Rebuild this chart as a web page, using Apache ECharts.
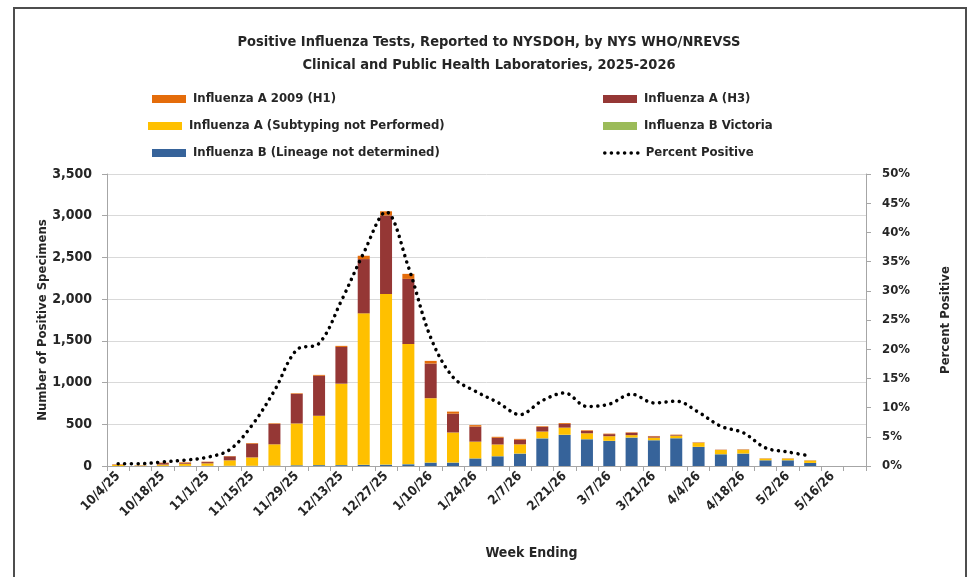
<!DOCTYPE html>
<html>
<head>
<meta charset="utf-8">
<script src="https://cdn.jsdelivr.net/npm/echarts@6/dist/echarts.min.js"></script>
<style>
html,body{margin:0;padding:0;background:#fff;}
#chart{width:978px;height:577px;}
</style>
</head>
<body>
<div id="chart"></div>
<script>
const weeks = ['10/4/25','10/11/25','10/18/25','10/25/25','11/1/25','11/8/25','11/15/25','11/22/25','11/29/25','12/6/25','12/13/25','12/20/25','12/27/25','1/3/26','1/10/26','1/17/26','1/24/26','1/31/26','2/7/26','2/14/26','2/21/26','2/28/26','3/7/26','3/14/26','3/21/26','3/28/26','4/4/26','4/11/26','4/18/26','4/25/26','5/2/26','5/9/26','5/16/26','5/23/26'];

const fluBLineageND = [0,0,2,2,2,3,3,5,8,10,10,12,15,20,40,40,90,116,148,330,372,320,300,340,308,332,228,140,148,68,68,36];
const fluBVictoria  = [0,0,0,0,0,0,0,0,2,2,2,3,3,3,3,2,2,2,2,3,3,2,2,2,2,2,2,2,2,1,1,1];
const fluANotSubtyped = [12,5,15,25,30,65,100,255,500,590,975,1815,2045,1440,770,360,200,140,110,80,85,70,55,28,30,30,48,50,45,20,20,28];
const fluAH3 = [3,2,18,10,15,48,165,245,355,480,440,650,940,780,415,225,180,80,55,55,45,28,25,28,15,8,3,2,3,2,2,2];
const fluAH1 = [5,1,5,7,5,4,8,7,7,10,13,40,50,60,32,25,18,12,10,8,10,8,6,6,5,4,3,2,2,1,1,1];
const percentPositive = [0.4,0.4,0.7,1.0,1.5,2.8,7.0,12.9,19.9,21.0,28.3,36.5,43.5,34.1,22.0,15.2,12.8,10.9,8.8,11.2,12.5,10.2,10.6,12.3,10.8,11.1,9.2,6.8,5.7,3.1,2.4,1.7];

const yLeftTicks = {min:0, max:3500, interval:500};
const yRightTicks = {min:0, max:50, interval:5};

const FONT = '"Liberation Sans Narrow","DejaVu Sans Condensed","Arial Narrow",sans-serif';
const TXT = '#262626';

const names = {
  h1:'Influenza A 2009 (H1)',
  h3:'Influenza A (H3)',
  ans:'Influenza A (Subtyping not Performed)',
  bv:'Influenza B Victoria',
  bnd:'Influenza B (Lineage not determined)',
  pct:'Percent Positive'
};

function leg(name, left, y, isLine){
  const l = {
    data:[isLine ? {name:name} : {name:name, icon:'rect'}],
    left:left, top:y-8, itemWidth:34, itemHeight:isLine?14:8, itemGap:0,
    selectedMode:false,
    textStyle:{fontFamily:FONT, fontWeight:'bold', fontSize:13, color:TXT, lineHeight:16, padding:[0,0,0,2]}
  };
  if (isLine) { l.itemStyle = {opacity:0}; l.lineStyle = {color:'#000', width:3.5, type:[0.1,6.5], cap:'round', opacity:1}; }
  return l;
}

const chart = echarts.init(document.getElementById('chart'), null, {renderer:'canvas'});
const barBase = {type:'bar', stack:'flu', barWidth:12, yAxisIndex:0};
chart.setOption({
  backgroundColor:'#ffffff',
  animation:false,
  title:{
    text:'Positive Influenza Tests, Reported to NYSDOH, by NYS WHO/NREVSS\nClinical and Public Health Laboratories, 2025-2026',
    left:'center', top:26,
    textStyle:{fontFamily:FONT, fontWeight:'bold', fontSize:14.5, color:TXT, lineHeight:23}
  },
  graphic:[{type:'rect', shape:{x:14, y:8, width:952, height:600}, style:{fill:'none', stroke:'#4d4d4d', lineWidth:2}, silent:true, z:-10}],
  legend:[
    leg(names.h1,147,94), leg(names.ans,143,121), leg(names.bnd,147,148),
    leg(names.h3,598,94), leg(names.bv,598,121), leg(names.pct,598,148,true)
  ],
  grid:{left:107, right:112, top:174, bottom:111, containLabel:false},
  xAxis:{
    type:'category', data:weeks, boundaryGap:true,
    name:'Week Ending', nameLocation:'middle', nameGap:80,
    nameTextStyle:{fontFamily:FONT, fontWeight:'bold', fontSize:14, color:TXT, padding:[0,0,0,90]},
    axisLine:{lineStyle:{color:'#a6a6a6', width:1}},
    axisTick:{show:true, interval:0, length:5, lineStyle:{color:'#a6a6a6'}},
    axisLabel:{interval:1, rotate:45, fontFamily:FONT, fontWeight:'bold', fontSize:13, color:TXT, margin:8},
    splitLine:{show:false}
  },
  yAxis:[{
    type:'value', min:yLeftTicks.min, max:yLeftTicks.max, interval:yLeftTicks.interval,
    name:'Number of Positive Specimens', nameLocation:'middle', nameGap:58, nameRotate:90, nameMoveOverlap:false,
    nameTextStyle:{fontFamily:FONT, fontWeight:'bold', fontSize:13, color:TXT},
    axisLine:{show:true, lineStyle:{color:'#a6a6a6'}},
    axisTick:{show:true, length:5, lineStyle:{color:'#a6a6a6'}},
    axisLabel:{fontFamily:FONT, fontWeight:'bold', fontSize:14, color:TXT, margin:15,
      formatter:v=>v.toLocaleString('en-US')},
    splitLine:{show:true, lineStyle:{color:'#d9d9d9', width:1}}
  },{
    type:'value', min:yRightTicks.min, max:yRightTicks.max, interval:yRightTicks.interval, position:'right',
    name:'Percent Positive', nameLocation:'middle', nameGap:73, nameRotate:90,
    nameTextStyle:{fontFamily:FONT, fontWeight:'bold', fontSize:13, color:TXT},
    axisLine:{show:true, lineStyle:{color:'#a6a6a6'}},
    axisTick:{show:true, length:5, lineStyle:{color:'#a6a6a6'}},
    axisLabel:{fontFamily:FONT, fontWeight:'bold', fontSize:13, color:TXT, margin:16, formatter:'{value}%'},
    splitLine:{show:false}
  }],
  series:[
    Object.assign({name:names.bnd, data:fluBLineageND, itemStyle:{color:'#36639a'}}, barBase),
    Object.assign({name:names.bv, data:fluBVictoria, itemStyle:{color:'#9bbb59'}}, barBase),
    Object.assign({name:names.ans, data:fluANotSubtyped, itemStyle:{color:'#ffc000'}}, barBase),
    Object.assign({name:names.h3, data:fluAH3, itemStyle:{color:'#953735'}}, barBase),
    Object.assign({name:names.h1, data:fluAH1, itemStyle:{color:'#e46c0a'}}, barBase),
    {name:names.pct, type:'line', yAxisIndex:1, data:percentPositive, smooth:0.35, symbol:'none',
     lineStyle:{color:'#000', width:3.5, type:[0.1,6.5], cap:'round'}, itemStyle:{color:'#000'}, z:5}
  ]
});
</script>
</body>
</html>
